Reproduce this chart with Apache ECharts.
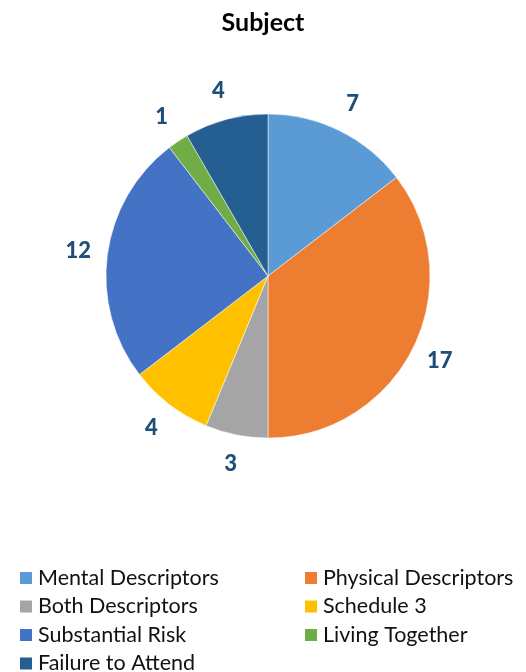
<!DOCTYPE html>
<html>
<head>
<meta charset="utf-8">
<script src="https://cdn.jsdelivr.net/npm/echarts@6/dist/echarts.min.js"></script>
<style>
  html, body { margin: 0; padding: 0; background: #fff; }
  #chart { width: 526px; height: 672px; }
</style>
</head>
<body>
<div id="chart"></div>
<script>
// Case counts by subject
const categories = [
  'Mental Descriptors', 'Physical Descriptors', 'Both Descriptors',
  'Schedule 3', 'Substantial Risk', 'Living Together', 'Failure to Attend'
];
const counts = [7, 17, 3, 4, 12, 1, 4];
const colors = ['#5B9BD5', '#ED7D31', '#A5A5A5', '#FFC000', '#4472C4', '#70AD47', '#255E91'];

const legendLeft = ['Mental Descriptors', 'Both Descriptors', 'Substantial Risk', 'Failure to Attend'];
const legendRight = ['Physical Descriptors', 'Schedule 3', 'Living Together'];

const FONT = 'Lato, "Open Sans", sans-serif';
const slices = categories.map((name, i) => ({ name, value: counts[i], itemStyle: { color: colors[i] } }));

const center = [268, 276];
const R = 162;

const legendCommon = {
  orient: 'vertical',
  icon: 'rect',
  itemWidth: 14,
  itemHeight: 14,
  itemGap: 6.5,
  padding: 0,
  height: 130,
  textStyle: { fontFamily: FONT, fontSize: 21.5, color: '#111', lineHeight: 21 },
  selectedMode: false
};

const chart = echarts.init(document.getElementById('chart'), null, { renderer: 'canvas' });
chart.setOption({
  animation: false,
  color: colors,
  title: {
    text: 'Subject',
    left: 'center',
    top: 5,
    textStyle: { fontFamily: FONT, fontSize: 25, fontWeight: 'bold', color: '#000' }
  },
  legend: [
    Object.assign({ data: legendLeft, left: 18, top: 567 }, legendCommon),
    Object.assign({ data: legendRight, left: 303, top: 567 }, legendCommon)
  ],
  series: [
    {
      type: 'pie',
      center: center,
      radius: [0, R],
      startAngle: 90,
      clockwise: true,
      data: slices,
      label: { show: false },
      labelLine: { show: false },
      itemStyle: { borderColor: '#ffffff', borderWidth: 0.5 },
      emphasis: { disabled: true }
    },
    {
      // transparent ring that carries the value labels just outside the pie
      type: 'pie',
      center: center,
      radius: [R, R + 53],
      startAngle: 90,
      clockwise: true,
      silent: true,
      data: categories.map((name, i) => ({ name, value: counts[i] })),
      itemStyle: { color: 'rgba(0,0,0,0)' },
      label: {
        show: true,
        position: 'inside',
        formatter: '{c}',
        fontFamily: FONT,
        fontSize: 22,
        fontWeight: 900,
        color: '#1F4E79'
      },
      labelLine: { show: false },
      emphasis: { disabled: true }
    }
  ]
});
</script>
</body>
</html>
